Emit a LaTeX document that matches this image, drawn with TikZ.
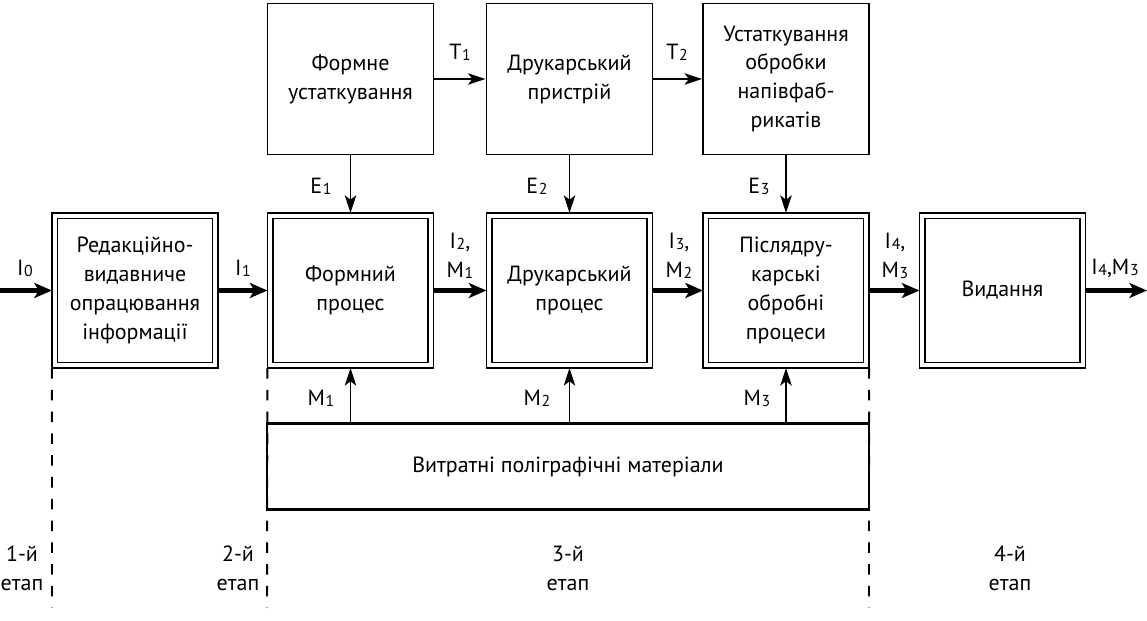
\documentclass[tikz,border=0pt]{standalone}
\usepackage{fontspec}
\setmainfont{PT Sans}
\usetikzlibrary{arrows.meta}
\newcommand\sbx[1]{\kern0.03em\raisebox{-0.1ex}{\fontsize{9}{9}\selectfont #1}}
\begin{document}
\begin{tikzpicture}[x=0.02cm,y=-0.02cm,
  every node/.style={font=\fontsize{12.5}{16.5}\selectfont, inner sep=0pt},
  sbox/.style={draw, line width=1.1pt, minimum width=3.32cm, minimum height=3.02cm, align=center},
  dbox/.style={draw, line width=0.9pt, double, double distance=2.2pt,
     minimum width=3.21cm, minimum height=2.99cm, outer sep=1.6pt, align=center},
  thinarr/.style={line width=1.1pt, -{Stealth[length=10pt,width=6.5pt,inset=2.5pt]}},
  thickarr/.style={line width=2.6pt, -{Stealth[length=10pt,width=8.5pt,inset=2.5pt]}},
  stagesep/.style={line width=1.1pt, dash pattern=on 6pt off 6.4pt},
  lbl/.style={align=center}]
\useasboundingbox (0,0) rectangle (1147,621);
% top boxes
\node[sbox] (fu) at (350.5,79) {Формне\\устаткування};
\node[sbox] (dp) at (569.5,79) {Друкарський\\пристрій};
\node[sbox] (uo) at (786,79) {Устаткування\\обробки\\напівфаб-\\рикатів};
% double boxes
\node[dbox] (red) at (135,290.5) {Редакційно-\\видавниче\\опрацювання\\інформації};
\node[dbox] (fp) at (350.5,290.5) {Формний\\процес};
\node[dbox] (drp) at (569.5,290.5) {Друкарський\\процес};
\node[dbox] (pp) at (786,290.5) {Післядру-\\карські\\обробні\\процеси};
\node[dbox] (vyd) at (1002.5,290.5) {Видання};
% materials
\node[draw, line width=1.1pt, minimum width=12.04cm, minimum height=1.7cm] (mat) at (568,466.5) {Витратні поліграфічні матеріали};
\draw[line width=1.7pt] (mat.north west) -- (mat.north east);
\draw[line width=1.7pt] (mat.south west) -- (mat.south east);
% coordinates
\coordinate (in) at (0,290.5);
\coordinate (out) at (1147,290.5);
\coordinate (d1) at (52,608);
\coordinate (d2) at (267,608);
\coordinate (d3) at (869,608);
% T arrows
\draw[thinarr] (fu.east) -- (dp.west);
\draw[thinarr] (dp.east) -- (uo.west);
% E arrows
\draw[thinarr] (fu.south) -- (fp.north);
\draw[thinarr] (dp.south) -- (drp.north);
\draw[thinarr] (uo.south) -- (pp.north);
% M arrows
\draw[thinarr] (mat.north -| fp.south) -- (fp.south);
\draw[thinarr] (mat.north -| drp.south) -- (drp.south);
\draw[thinarr] (mat.north -| pp.south) -- (pp.south);
% main flow
\draw[thickarr] (in) -- (red.west);
\draw[thickarr] (red.east) -- (fp.west);
\draw[thickarr] (fp.east) -- (drp.west);
\draw[thickarr] (drp.east) -- (pp.west);
\draw[thickarr] (pp.east) -- (vyd.west);
\draw[thickarr] (vyd.east) -- (out);
% stage separators
\draw[stagesep] (red.south west) -- (d1);
\draw[stagesep] (fp.south west) -- (d2);
\draw[stagesep] (pp.south east) -- (d3);
% labels
\node[lbl] (lT1) at (460,52) {T\sbx{1}};
\node[lbl] (lT2) at (677,52) {T\sbx{2}};
\node[lbl] (lE1) at (321,186) {E\sbx{1}};
\node[lbl] (lE2) at (537,186) {E\sbx{2}};
\node[lbl] (lE3) at (759,186) {E\sbx{3}};
\node[lbl] (lM1) at (321,398) {M\sbx{1}};
\node[lbl] (lM2) at (537,398) {M\sbx{2}};
\node[lbl] (lM3) at (757,398) {M\sbx{3}};
\node[lbl] (lI0) at (25,268) {I\sbx{0}};
\node[lbl] (lI1) at (243,268) {I\sbx{1}};
\node[lbl] (lI2) at (460,256) {I\sbx{2},\\M\sbx{1}};
\node[lbl] (lI3) at (679,256) {I\sbx{3},\\M\sbx{2}};
\node[lbl] (lI4) at (895,256) {I\sbx{4},\\M\sbx{3}};
\node[lbl] (lI5) at (1115,268) {I\sbx{4},M\sbx{3}};
\node[lbl] (s1) at (22,568) {1-й\\етап};
\node[lbl] (s2) at (238,568) {2-й\\етап};
\node[lbl] (s3) at (568,568) {3-й\\етап};
\node[lbl] (s4) at (1010,568) {4-й\\етап};
\end{tikzpicture}
\end{document}
